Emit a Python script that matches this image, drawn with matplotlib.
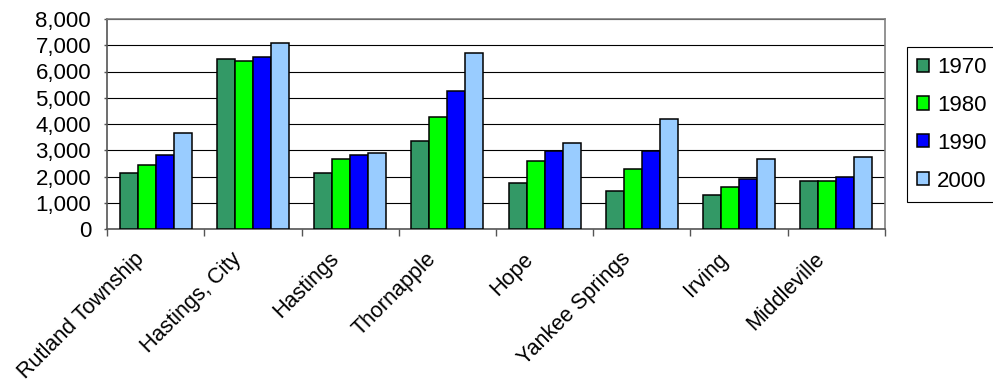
import numpy as np
import matplotlib.pyplot as plt
import matplotlib.transforms as mtransforms
from matplotlib.ticker import FuncFormatter, FixedLocator

plt.rcParams['font.family'] = ['Liberation Sans', 'DejaVu Sans']

# population by township / city
places = ['Rutland Township', 'Hastings, City', 'Hastings', 'Thornapple',
          'Hope', 'Yankee Springs', 'Irving', 'Middleville']
years = ['1970', '1980', '1990', '2000']
pop_1970 = [2140, 6470, 2140, 3360, 1760, 1460, 1310, 1840]
pop_1980 = [2450, 6410, 2660, 4280, 2590, 2300, 1600, 1840]
pop_1990 = [2830, 6560, 2830, 5270, 2970, 2970, 1910, 1980]
pop_2000 = [3670, 7090, 2910, 6710, 3270, 4200, 2660, 2750]
colors = ['#339966', '#00ff00', '#0000ff', '#99ccff']

series = [pop_1970, pop_1980, pop_1990, pop_2000]

fig = plt.figure(figsize=(9.93, 3.85), dpi=100)
ax = fig.add_axes([107/993, 1 - 229/385, (885 - 107)/993, (229 - 19)/385])

x = np.arange(len(places))
w = 0.185
for j, (vals, c, yr) in enumerate(zip(series, colors, years)):
    ax.bar(x + (j - 1.5) * w, vals, width=w, color=c, edgecolor='black',
           linewidth=1.1, label=yr, zorder=3)

ax.set_xlim(-0.5, len(places) - 0.5)
ax.set_ylim(0, 8000)
ax.set_yticks(np.arange(0, 8001, 1000))
ax.yaxis.set_major_formatter(FuncFormatter(lambda v, p: f'{int(v):,}'))
ax.grid(axis='y', color='black', linewidth=0.8, zorder=0)

# category labels at centres, tick marks at the boundaries
ax.set_xticks(x)
ax.set_xticklabels(places, rotation=45, ha='right', rotation_mode='anchor')
ax.xaxis.set_minor_locator(FixedLocator(np.arange(-0.5, len(places), 1.0)))
ax.tick_params(axis='x', which='major', length=0, pad=14, labelsize=15.5)
ax.tick_params(axis='x', which='minor', length=5, color='#555555', width=1)
ax.tick_params(axis='y', length=2.5, color='#555555', width=1, labelsize=16, pad=9)

shift = mtransforms.ScaledTranslation(-22/100, 0, fig.dpi_scale_trans)
for lbl in ax.get_xticklabels():
    lbl.set_transform(lbl.get_transform() + shift)

for side in ['top', 'right']:
    ax.spines[side].set_color('#808080')
for side in ['left', 'bottom']:
    ax.spines[side].set_color('#555555')
for s in ax.spines.values():
    s.set_linewidth(1.2)

leg = ax.legend(loc='upper left', bbox_to_anchor=(907/993, 1 - 47/385),
                bbox_transform=fig.transFigure, borderaxespad=0,
                fontsize=16, handlelength=0.53, handleheight=0.53,
                handletextpad=0.36, labelspacing=0.76, borderpad=0.45,
                fancybox=False, edgecolor='black', framealpha=1)
leg.get_frame().set_linewidth(0.8)

fig.savefig('out.png', dpi=100)
